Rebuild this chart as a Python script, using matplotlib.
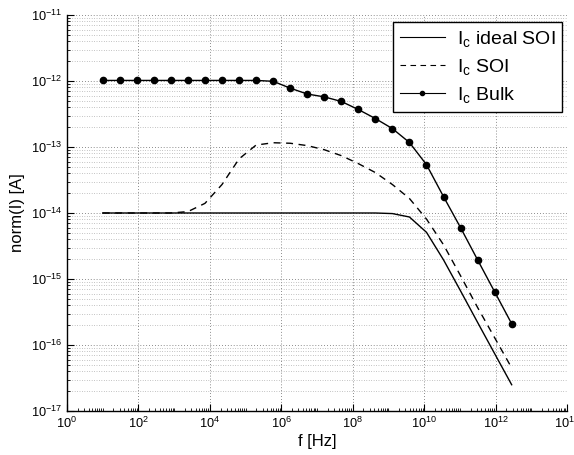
import numpy as np
import matplotlib
matplotlib.use('Agg')
import matplotlib.pyplot as plt
from matplotlib.ticker import LogLocator, FixedLocator, NullFormatter

plt.rcParams['font.family'] = ['Liberation Sans', 'DejaVu Sans']
plt.rcParams['mathtext.fontset'] = 'custom'
plt.rcParams['mathtext.rm'] = 'Liberation Sans'

# frequency points (Hz), factor 3 apart
freq = [1.0e1, 3.0e1, 9.0e1, 2.7e2, 8.1e2, 2.43e3, 7.29e3, 2.187e4, 6.561e4,
        1.9683e5, 5.9049e5, 1.77147e6, 5.31441e6, 1.594323e7, 4.782969e7,
        1.4348907e8, 4.3046721e8, 1.29140163e9, 3.87420489e9, 1.162261467e10,
        3.486784401e10, 1.046035320e11, 3.138105961e11, 9.414317882e11,
        2.824295365e12]

ideal_soi = [1.0e-14, 1.0e-14, 1.0e-14, 1.0e-14, 1.0e-14, 1.0e-14, 1.0e-14,
             1.0e-14, 1.0e-14, 1.0e-14, 1.0e-14, 1.0e-14, 1.0e-14, 1.0e-14,
             1.0e-14, 1.0e-14, 1.0e-14, 9.8e-15, 8.7e-15, 5.1e-15, 1.95e-15,
             6.6e-16, 2.2e-16, 7.4e-17, 2.5e-17]

soi = [1.0e-14, 1.0e-14, 1.0e-14, 1.0e-14, 1.0e-14, 1.05e-14, 1.4e-14,
       2.7e-14, 6.6e-14, 1.07e-13, 1.16e-13, 1.14e-13, 1.05e-13, 9.1e-14,
       7.4e-14, 5.6e-14, 4.1e-14, 2.7e-14, 1.66e-14, 8.1e-15, 3.3e-15,
       1.12e-15, 3.7e-16, 1.29e-16, 4.5e-17]

bulk = [1.02e-12, 1.02e-12, 1.02e-12, 1.02e-12, 1.02e-12, 1.02e-12, 1.02e-12,
        1.02e-12, 1.02e-12, 1.02e-12, 9.9e-13, 7.8e-13, 6.35e-13, 5.75e-13,
        4.9e-13, 3.7e-13, 2.7e-13, 1.9e-13, 1.17e-13, 5.4e-14, 1.77e-14,
        6.0e-15, 1.95e-15, 6.4e-16, 2.1e-16]

x_ticks = [1e0, 1e2, 1e4, 1e6, 1e8, 1e10, 1e12, 1e14]

fig = plt.figure(figsize=(5.74, 4.55), dpi=100)
ax = fig.add_axes([67/574, 1-411/455, 500/574, 396/455])

ax.loglog(freq, ideal_soi, color='black', linewidth=1.0,
          label=r'$\mathregular{I_c}$ ideal SOI')
ax.loglog(freq, soi, color='black', linewidth=1.0, linestyle=(0, (5, 4)),
          label=r'$\mathregular{I_c}$ SOI')
ax.loglog(freq, bulk, color='black', linewidth=1.0, marker='o', markersize=4.5,
          label=r'$\mathregular{I_c}$ Bulk')

ax.set_xlim(1e0, 1e14)
ax.set_ylim(1e-17, 1e-11)

ax.xaxis.set_major_locator(FixedLocator(x_ticks))
ax.xaxis.set_minor_locator(LogLocator(base=10, subs=np.arange(1, 10), numticks=30))
ax.xaxis.set_minor_formatter(NullFormatter())
ax.yaxis.set_major_locator(LogLocator(base=10, numticks=20))
ax.yaxis.set_minor_locator(LogLocator(base=10, subs=np.arange(2, 10), numticks=30))
ax.yaxis.set_minor_formatter(NullFormatter())

ax.grid(True, which='major', linestyle=(0, (1, 2.5)), color='0.4', linewidth=0.6)
ax.yaxis.grid(True, which='minor', linestyle=(0, (1, 2.5)), color='0.55', linewidth=0.5)

for s in ['top', 'right']:
    ax.spines[s].set_visible(False)
for s in ['left', 'bottom']:
    ax.spines[s].set_linewidth(1.0)

ax.tick_params(which='both', direction='in', labelsize=9.2)
ax.tick_params(which='major', length=5)
ax.tick_params(which='minor', length=2.5)

ax.set_xlabel('f [Hz]', fontsize=12, labelpad=2)
ax.set_ylabel('norm(I) [A]', fontsize=12, labelpad=4)

leg = ax.legend(loc='upper right', bbox_to_anchor=(0.99, 0.982), fontsize=14,
                borderaxespad=0, frameon=True, fancybox=False, framealpha=1,
                edgecolor='black', handlelength=2.3, handletextpad=0.6,
                borderpad=0.35, labelspacing=0.42)
leg.get_frame().set_linewidth(1.0)
for h in leg.get_lines():
    h.set_linewidth(0.8)
    if h.get_marker() == 'o':
        h.set_markersize(3)

fig.savefig('out.png', dpi=100)
